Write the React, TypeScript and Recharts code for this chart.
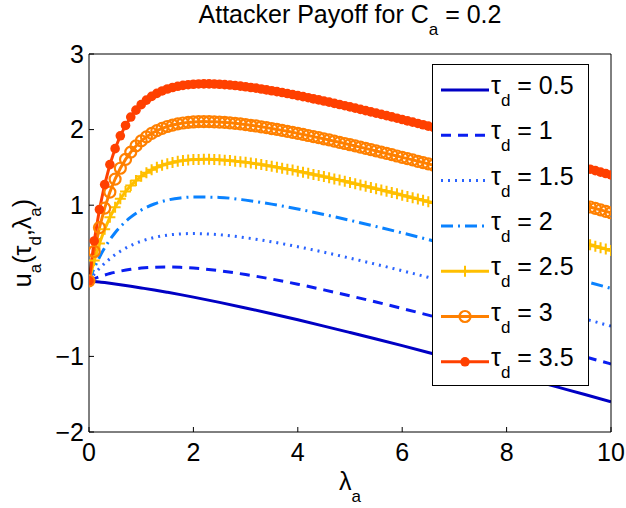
import React from 'react';
import { LineChart, Line, XAxis, YAxis, Legend, Label } from 'recharts';

const FONT = "'Liberation Sans', Arial, Helvetica, sans-serif";

// lambda_a grid for the marker series (dense)
const lambdaFine = [
  0, 0.1, 0.2, 0.3, 0.4, 0.5, 0.6, 0.7, 0.8, 0.9,
  1, 1.1, 1.2, 1.3, 1.4, 1.5, 1.6, 1.7, 1.8, 1.9,
  2, 2.1, 2.2, 2.3, 2.4, 2.5, 2.6, 2.7, 2.8, 2.9,
  3, 3.1, 3.2, 3.3, 3.4, 3.5, 3.6, 3.7, 3.8, 3.9,
  4, 4.1, 4.2, 4.3, 4.4, 4.5, 4.6, 4.7, 4.8, 4.9,
  5, 5.1, 5.2, 5.3, 5.4, 5.5, 5.6, 5.7, 5.8, 5.9,
  6, 6.1, 6.2, 6.3, 6.4, 6.5, 6.6, 6.7, 6.8, 6.9,
  7, 7.1, 7.2, 7.3, 7.4, 7.5, 7.6, 7.7, 7.8, 7.9,
  8, 8.1, 8.2, 8.3, 8.4, 8.5, 8.6, 8.7, 8.8, 8.9,
  9, 9.1, 9.2, 9.3, 9.4, 9.5, 9.6, 9.7, 9.8, 9.9,
  10,
];

// lambda_a grid for the plain line series
const lambdaCoarse = [
  0, 0.1, 0.2, 0.3, 0.4, 0.5, 0.6, 0.8, 1, 1.25, 1.5, 1.75, 2, 2.5, 3, 3.5,
  4, 4.5, 5, 5.5, 6, 6.5, 7, 7.5, 8, 8.5, 9, 9.5, 10,
];

const tau05 = [
  0, -0.008, -0.016, -0.024, -0.033, -0.042, -0.052, -0.072, -0.094, -0.122,
  -0.152, -0.183, -0.216, -0.285, -0.359, -0.436, -0.516, -0.599, -0.684,
  -0.77, -0.858, -0.948, -1.039, -1.13, -1.223, -1.316, -1.41, -1.504, -1.599,
];
const tau1 = [
  0, 0.028, 0.054, 0.076, 0.096, 0.113, 0.128, 0.152, 0.168, 0.179, 0.182,
  0.178, 0.168, 0.133, 0.083, 0.023, -0.045, -0.12, -0.199, -0.281, -0.366,
  -0.454, -0.543, -0.633, -0.725, -0.818, -0.911, -1.005, -1.1,
];
const tau15 = [
  0, 0.087, 0.164, 0.232, 0.292, 0.345, 0.391, 0.467, 0.523, 0.573, 0.604,
  0.62, 0.625, 0.609, 0.57, 0.516, 0.451, 0.378, 0.3, 0.218, 0.133, 0.046,
  -0.043, -0.133, -0.225, -0.318, -0.411, -0.505, -0.6,
];
const tau2 = [
  0, 0.167, 0.312, 0.436, 0.543, 0.636, 0.715, 0.842, 0.935, 1.016, 1.067,
  1.096, 1.109, 1.103, 1.067, 1.014, 0.95, 0.878, 0.8, 0.718, 0.633, 0.546,
  0.457, 0.367, 0.275, 0.182, 0.089, -0.005, -0.1,
];
const tau25 = [
  0, 0.268, 0.493, 0.681, 0.84, 0.973, 1.085, 1.18, 1.259, 1.326,
  1.382, 1.429, 1.468, 1.501, 1.527, 1.549, 1.566, 1.58, 1.591, 1.598,
  1.603, 1.606, 1.607, 1.607, 1.604, 1.601, 1.596, 1.59, 1.583, 1.575,
  1.567, 1.557, 1.548, 1.537, 1.526, 1.514, 1.502, 1.49, 1.477, 1.464,
  1.45, 1.436, 1.422, 1.407, 1.393, 1.378, 1.363, 1.347, 1.332, 1.316,
  1.3, 1.284, 1.268, 1.251, 1.235, 1.218, 1.201, 1.185, 1.168, 1.151,
  1.133, 1.116, 1.099, 1.081, 1.064, 1.046, 1.029, 1.011, 0.993, 0.975,
  0.957, 0.939, 0.921, 0.903, 0.885, 0.867, 0.848, 0.83, 0.812, 0.793,
  0.775, 0.757, 0.738, 0.72, 0.701, 0.682, 0.664, 0.645, 0.626, 0.608,
  0.589, 0.57, 0.551, 0.532, 0.514, 0.495, 0.476, 0.457, 0.438, 0.419,
  0.4,
];
const tau3 = [
  0, 0.388, 0.704, 0.962, 1.173, 1.346, 1.489, 1.606, 1.703, 1.784,
  1.85, 1.904, 1.949, 1.986, 2.016, 2.041, 2.06, 2.075, 2.087, 2.095,
  2.101, 2.105, 2.106, 2.105, 2.103, 2.1, 2.095, 2.09, 2.083, 2.075,
  2.067, 2.057, 2.048, 2.037, 2.026, 2.014, 2.002, 1.99, 1.977, 1.964,
  1.95, 1.936, 1.922, 1.907, 1.893, 1.878, 1.863, 1.847, 1.832, 1.816,
  1.8, 1.784, 1.768, 1.751, 1.735, 1.718, 1.701, 1.685, 1.668, 1.651,
  1.633, 1.616, 1.599, 1.581, 1.564, 1.546, 1.529, 1.511, 1.493, 1.475,
  1.457, 1.439, 1.421, 1.403, 1.385, 1.367, 1.348, 1.33, 1.312, 1.293,
  1.275, 1.257, 1.238, 1.22, 1.201, 1.182, 1.164, 1.145, 1.126, 1.108,
  1.089, 1.07, 1.051, 1.032, 1.014, 0.995, 0.976, 0.957, 0.938, 0.919,
  0.9,
];
const tau35 = [
  0, 0.527, 0.943, 1.273, 1.537, 1.748, 1.918, 2.055, 2.166, 2.257,
  2.33, 2.39, 2.439, 2.479, 2.511, 2.537, 2.557, 2.573, 2.585, 2.594,
  2.6, 2.604, 2.605, 2.605, 2.603, 2.6, 2.595, 2.59, 2.583, 2.575,
  2.567, 2.557, 2.548, 2.537, 2.526, 2.514, 2.502, 2.49, 2.477, 2.464,
  2.45, 2.436, 2.422, 2.407, 2.393, 2.378, 2.363, 2.347, 2.332, 2.316,
  2.3, 2.284, 2.268, 2.251, 2.235, 2.218, 2.201, 2.185, 2.168, 2.151,
  2.133, 2.116, 2.099, 2.081, 2.064, 2.046, 2.029, 2.011, 1.993, 1.975,
  1.957, 1.939, 1.921, 1.903, 1.885, 1.867, 1.848, 1.83, 1.812, 1.793,
  1.775, 1.757, 1.738, 1.72, 1.701, 1.682, 1.664, 1.645, 1.626, 1.608,
  1.589, 1.57, 1.551, 1.532, 1.514, 1.495, 1.476, 1.457, 1.438, 1.419,
  1.4,
];

const tauLabels = ['0.5', '1', '1.5', '2', '2.5', '3', '3.5'];
const xTicks = [0, 2, 4, 6, 8, 10];
const yTicks = [-2, -1, 0, 1, 2, 3];

type Marker = 'none' | 'plus' | 'circle' | 'dot';
interface Series {
  key: string;
  label: string;
  xs: number[];
  ys: number[];
  color: string;
  dash?: string;
  marker: Marker;
}

const series: Series[] = [
  { key: 't05', label: tauLabels[0], xs: lambdaCoarse, ys: tau05, color: '#0000c4', marker: 'none' },
  { key: 't1', label: tauLabels[1], xs: lambdaCoarse, ys: tau1, color: '#0a1ef0', dash: '10 7', marker: 'none' },
  { key: 't15', label: tauLabels[2], xs: lambdaCoarse, ys: tau15, color: '#2a64ff', dash: '2 5', marker: 'none' },
  { key: 't2', label: tauLabels[3], xs: lambdaCoarse, ys: tau2, color: '#0a82ff', dash: '12 5 2 5', marker: 'none' },
  { key: 't25', label: tauLabels[4], xs: lambdaFine, ys: tau25, color: '#ffbf00', marker: 'plus' },
  { key: 't3', label: tauLabels[5], xs: lambdaFine, ys: tau3, color: '#ff8000', marker: 'circle' },
  { key: 't35', label: tauLabels[6], xs: lambdaFine, ys: tau35, color: '#ff4000', marker: 'dot' },
];

function markerShape(marker: Marker, color: string, cx: number, cy: number, key?: any) {
  if (marker === 'plus') {
    return (
      <path
        key={key}
        d={`M${cx - 5.5},${cy}H${cx + 5.5}M${cx},${cy - 5.5}V${cy + 5.5}`}
        stroke={color}
        strokeWidth={2}
        fill="none"
      />
    );
  }
  if (marker === 'circle') {
    return <circle key={key} cx={cx} cy={cy} r={5.5} stroke={color} strokeWidth={2.2} fill="none" />;
  }
  if (marker === 'dot') {
    return <circle key={key} cx={cx} cy={cy} r={4.8} fill={color} stroke="none" />;
  }
  return <g key={key} />;
}

const makeDot = (marker: Marker, color: string) => (props: any) => {
  const { cx, cy, index } = props;
  if (cx == null || cy == null) return <g key={index} />;
  return markerShape(marker, color, cx, cy, index);
};

const renderLegend = () => (
  <div
    style={{
      width: 157,
      height: 322,
      border: '1px solid #000',
      background: '#fff',
      boxSizing: 'border-box',
    }}
  >
    <svg width={155} height={320} style={{ display: 'block' }}>
      {series.map((s, i) => {
        const cy = 25 + i * 45.3;
        return (
          <g key={s.key}>
            <line x1={8} x2={56} y1={cy} y2={cy} stroke={s.color} strokeWidth={3} strokeDasharray={s.dash} />
            {markerShape(s.marker, s.color, 32, cy)}
            <text x={58} y={cy + 4} fontSize={25} fontFamily={FONT} fill="#000">
              τ
              <tspan dy={12} fontSize={17}>d</tspan>
              <tspan dy={-12} fontSize={25}>{` = ${s.label}`}</tspan>
            </text>
          </g>
        );
      })}
    </svg>
  </div>
);

const TitleLabel = () => (
  <text x={350} y={23} textAnchor="middle" fontSize={25} fontFamily={FONT} fill="#000">
    Attacker Payoff for C
    <tspan dy={12} fontSize={17}>a</tspan>
    <tspan dy={-12} fontSize={25}> = 0.2</tspan>
  </text>
);

const XTitle = () => (
  <text x={350} y={490} textAnchor="middle" fontSize={25} fontFamily={FONT} fill="#000">
    λ
    <tspan dy={12} fontSize={17}>a</tspan>
  </text>
);

const YTitle = () => (
  <text
    x={31}
    y={243}
    textAnchor="middle"
    fontSize={25}
    fontFamily={FONT}
    fill="#000"
    transform="rotate(-90 31 243)"
  >
    u<tspan dy={10} fontSize={17}>a</tspan>
    <tspan dy={-10}>(τ</tspan>
    <tspan dy={10} fontSize={17}>d</tspan>
    <tspan dy={-10}>,λ</tspan>
    <tspan dy={10} fontSize={17}>a</tspan>
    <tspan dy={-10}>)</tspan>
  </text>
);

const tickStyle = { fill: '#000', fontSize: 25, fontFamily: FONT };
const fmtMinus = (v: number) => String(v).replace('-', '\u2212');

export default function App() {
  return (
    <div style={{ position: 'absolute', left: 0, top: 0, width: 626, height: 508, background: '#fff' }}>
      <LineChart width={626} height={508} margin={{ top: 53, right: 14, bottom: 0, left: 0 }}>
        <XAxis
          xAxisId="bottom"
          dataKey="x"
          type="number"
          domain={[0, 10]}
          ticks={xTicks}
          height={76}
          stroke="#000"
          tickSize={-5}
          tickMargin={16}
          tick={tickStyle}
          allowDataOverflow
        >
          <Label content={XTitle} />
        </XAxis>
        <XAxis
          xAxisId="top"
          orientation="top"
          dataKey="x"
          type="number"
          domain={[0, 10]}
          ticks={xTicks}
          height={1}
          stroke="#000"
          tickSize={-5}
          tick={false}
          allowDataOverflow
        >
          <Label content={TitleLabel} />
        </XAxis>
        <YAxis
          yAxisId="left"
          type="number"
          domain={[-2, 3]}
          ticks={yTicks}
          width={89}
          stroke="#000"
          tickSize={-5}
          tickMargin={10}
          tick={tickStyle}
          tickFormatter={fmtMinus}
          allowDataOverflow
        >
          <Label content={YTitle} />
        </YAxis>
        <YAxis
          yAxisId="right"
          orientation="right"
          type="number"
          domain={[-2, 3]}
          ticks={yTicks}
          width={1}
          stroke="#000"
          tickSize={-5}
          tick={false}
          allowDataOverflow
        />
        {series.map((s) => (
          <Line
            key={s.key}
            xAxisId="bottom"
            yAxisId="left"
            data={s.xs.map((x, i) => ({ x, y: s.ys[i] }))}
            dataKey="y"
            type={s.marker === 'none' ? 'monotone' : 'linear'}
            stroke={s.color}
            strokeWidth={3}
            strokeDasharray={s.dash}
            dot={s.marker === 'none' ? false : makeDot(s.marker, s.color)}
            activeDot={false}
            isAnimationActive={false}
          />
        ))}
        <Legend
          content={renderLegend}
          layout="vertical"
          align="center"
          verticalAlign="middle"
          wrapperStyle={{ left: 432, top: 64, width: 157, height: 322, margin: 0, padding: 0 }}
        />
      </LineChart>
    </div>
  );
}
